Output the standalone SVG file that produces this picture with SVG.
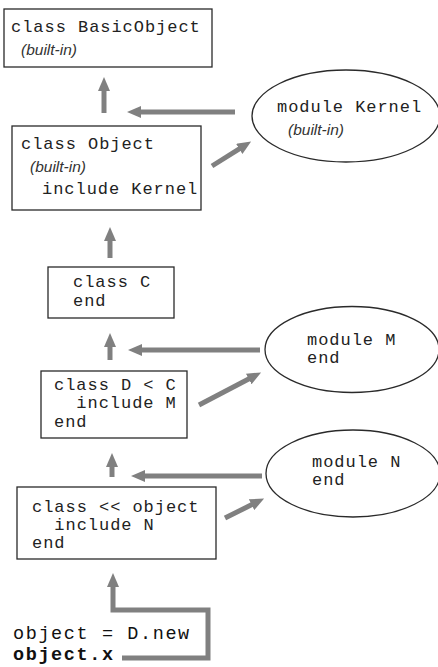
<svg xmlns="http://www.w3.org/2000/svg" width="438" height="667" viewBox="0 0 438 667">
<defs>
<style>
.box{fill:#fff;stroke:#2a2a2a;stroke-width:1.3}
.ell{fill:#fff;stroke:#2a2a2a;stroke-width:1.3}
.code{font-family:"Liberation Mono","DejaVu Sans Mono",monospace;font-size:17px;letter-spacing:0.96px;fill:#222;white-space:pre}
.big{font-family:"Liberation Mono","DejaVu Sans Mono",monospace;font-size:18.5px;letter-spacing:1.6px;fill:#111;white-space:pre}
.it{font-family:"Liberation Sans",Arial,sans-serif;font-style:italic;font-size:15.5px;fill:#333}
.arr{fill:none;stroke:#808080;stroke-width:5;marker-end:url(#ah)}
</style>
<marker id="ah" markerUnits="userSpaceOnUse" viewBox="0 0 14 12" refX="1" refY="6" markerWidth="14" markerHeight="12" orient="auto">
<path d="M0,0 L14,6 L0,12 z" fill="#808080"/>
</marker>
</defs>
<rect width="438" height="667" fill="#fff"/>
<g id="connectors">
<path class="arr" d="M104,113 L104,90"/>
<path class="arr" d="M235,112 L140,112"/>
<path class="arr" d="M212,166 L240.1,148.4"/>
<path class="arr" d="M110,258 L110,240"/>
<path class="arr" d="M110,360 L110,346"/>
<path class="arr" d="M260,350 L141,350"/>
<path class="arr" d="M199,405 L249.6,378.5"/>
<path class="arr" d="M112,477 L112,466"/>
<path class="arr" d="M262,476 L144,476"/>
<path class="arr" d="M225,518 L252.5,504.3"/>
<path class="arr" d="M122,658 L208,658 L208,610 L113,610 L113,586"/>
</g>
<g id="basicobject">
<rect class="box" x="4" y="9" width="208" height="58"/>
<text class="code" x="11" y="32">class BasicObject</text>
<text class="it" x="21" y="55">(built-in)</text>
</g>
<g id="object">
<rect class="box" x="12" y="126" width="189" height="84"/>
<text class="code" x="21" y="149">class Object</text>
<text class="it" x="30" y="172">(built-in)</text>
<text class="code" x="42" y="194">include Kernel</text>
</g>
<g id="kernel">
<ellipse class="ell" cx="346" cy="116" rx="94" ry="46"/>
<text class="code" x="277" y="112">module Kernel</text>
<text class="it" x="288" y="135">(built-in)</text>
</g>
<g id="classC">
<rect class="box" x="48" y="267" width="126" height="51"/>
<text class="code" x="73" y="287">class C</text>
<text class="code" x="73" y="306">end</text>
</g>
<g id="moduleM">
<ellipse class="ell" cx="352" cy="349.5" rx="87" ry="43"/>
<text class="code" x="307" y="345">module M</text>
<text class="code" x="307" y="363">end</text>
</g>
<g id="classD">
<rect class="box" x="41" y="371" width="146" height="67"/>
<text class="code" x="54" y="390">class D &lt; C</text>
<text class="code" x="54" y="408">  include M</text>
<text class="code" x="54" y="427">end</text>
</g>
<g id="moduleN">
<ellipse class="ell" cx="353" cy="473.5" rx="87" ry="43.5"/>
<text class="code" x="312" y="467">module N</text>
<text class="code" x="312" y="485">end</text>
</g>
<g id="singleton">
<rect class="box" x="17" y="487" width="199" height="72"/>
<text class="code" x="32" y="512">class &lt;&lt; object</text>
<text class="code" x="32" y="530">  include N</text>
<text class="code" x="32" y="548">end</text>
</g>
<g id="code">
<text class="big" x="13" y="639">object = D.new</text>
<text class="big" x="13" y="660" font-weight="bold">object.x</text>
</g>
</svg>
